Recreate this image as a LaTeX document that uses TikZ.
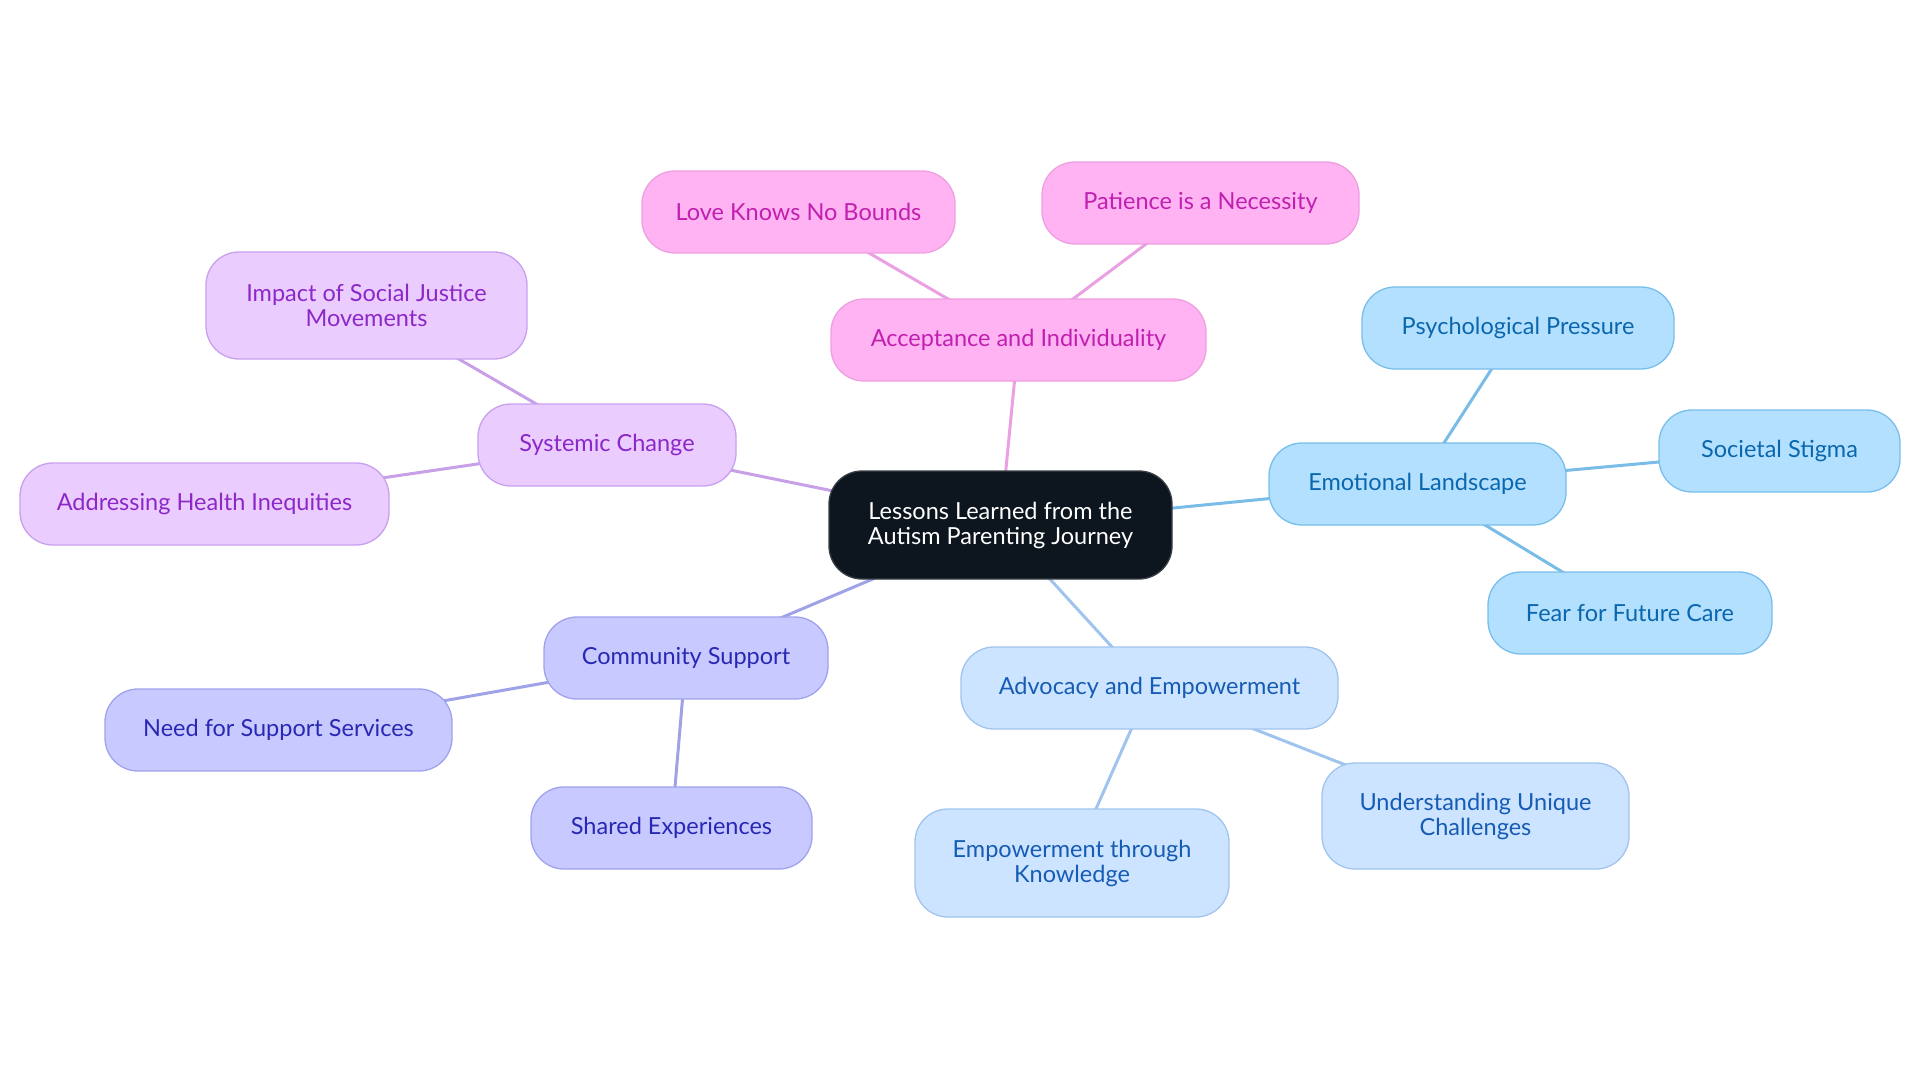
\documentclass[tikz,border=0pt]{standalone}
\usepackage{fontspec}
\setmainfont{Lato}
\usetikzlibrary{backgrounds}
\definecolor{ctrfill}{HTML}{0D151E}
\definecolor{ctrline}{HTML}{3A3F46}
\definecolor{pkfill}{HTML}{FFB3F2}
\definecolor{pkline}{HTML}{EE9FE0}
\definecolor{pktext}{HTML}{C01FB0}
\definecolor{pkedge}{HTML}{EAA0E2}
\definecolor{emfill}{HTML}{B3E0FF}
\definecolor{emline}{HTML}{78BEEB}
\definecolor{emtext}{HTML}{0B67AD}
\definecolor{emedge}{HTML}{7ABCE8}
\definecolor{adfill}{HTML}{CCE4FF}
\definecolor{adline}{HTML}{A0C4EE}
\definecolor{adtext}{HTML}{165CB4}
\definecolor{adedge}{HTML}{A0C4EE}
\definecolor{cofill}{HTML}{C8CAFF}
\definecolor{coline}{HTML}{A0A2EE}
\definecolor{cotext}{HTML}{2828B4}
\definecolor{coedge}{HTML}{A0A2E8}
\definecolor{syfill}{HTML}{EACCFF}
\definecolor{syline}{HTML}{C8A0EE}
\definecolor{sytext}{HTML}{8C28C8}
\definecolor{syedge}{HTML}{C8A0E8}
\tikzset{
  box/.style={rounded corners=33pt, line width=1.3pt, align=center,
    font=\fontsize{23.5}{25}\selectfont, minimum height=82pt, inner sep=0pt},
  ctr/.style={box, fill=ctrfill, draw=ctrline, text=white, minimum height=108pt},
  pk/.style={box, fill=pkfill, draw=pkline, text=pktext},
  em/.style={box, fill=emfill, draw=emline, text=emtext},
  ad/.style={box, fill=adfill, draw=adline, text=adtext},
  co/.style={box, fill=cofill, draw=coline, text=cotext},
  sy/.style={box, fill=syfill, draw=syline, text=sytext},
  link/.style={line width=3pt}
}
\begin{document}
\begin{tikzpicture}[x=1pt,y=-1pt]
\useasboundingbox (0,0) rectangle (1920,1083);
\node[ctr, minimum width=343pt] (c) at (1000.5,525) {Lessons Learned from the\\Autism Parenting Journey};
\node[pk, minimum width=375pt] (acc) at (1018.5,340) {Acceptance and Individuality};
\node[pk, minimum width=313pt] (love) at (798.5,212) {Love Knows No Bounds};
\node[pk, minimum width=317pt] (pat) at (1200.5,203) {Patience is a Necessity};
\node[em, minimum width=297pt] (emo) at (1417.5,484) {Emotional Landscape};
\node[em, minimum width=312pt] (psy) at (1518,328) {Psychological Pressure};
\node[em, minimum width=241pt] (soc) at (1779.5,451) {Societal Stigma};
\node[em, minimum width=284pt] (fear) at (1630,613) {Fear for Future Care};
\node[ad, minimum width=377pt] (adv) at (1149.5,688) {Advocacy and Empowerment};
\node[ad, minimum width=307pt, minimum height=106pt] (und) at (1475.5,816) {Understanding Unique\\Challenges};
\node[ad, minimum width=314pt, minimum height=108pt] (emp) at (1072,863) {Empowerment through\\Knowledge};
\node[co, minimum width=284pt] (com) at (686,658) {Community Support};
\node[co, minimum width=347pt] (need) at (278.5,730) {Need for Support Services};
\node[co, minimum width=281pt] (sha) at (671.5,828) {Shared Experiences};
\node[sy, minimum width=258pt] (sys) at (607,445) {Systemic Change};
\node[sy, minimum width=321pt, minimum height=107pt] (imp) at (366.5,305.5) {Impact of Social Justice\\Movements};
\node[sy, minimum width=369pt] (hea) at (204.5,504) {Addressing Health Inequities};
\begin{scope}[on background layer]
\draw[link, pkedge] (c.center) -- (acc.center);
\draw[link, pkedge] (acc.center) -- (love.center);
\draw[link, pkedge] (acc.center) -- (pat.center);
\draw[link, emedge] (c.center) -- (emo.center);
\draw[link, emedge] (emo.center) -- (psy.center);
\draw[link, emedge] (emo.center) -- (soc.center);
\draw[link, emedge] (emo.center) -- (fear.center);
\draw[link, adedge] (c.center) -- (adv.center);
\draw[link, adedge] (adv.center) -- (und.center);
\draw[link, adedge] (adv.center) -- (emp.center);
\draw[link, coedge] (c.center) -- (com.center);
\draw[link, coedge] (com.center) -- (need.center);
\draw[link, coedge] (com.center) -- (sha.center);
\draw[link, syedge] (c.center) -- (sys.center);
\draw[link, syedge] (sys.center) -- (imp.center);
\draw[link, syedge] (sys.center) -- (hea.center);
\end{scope}
\end{tikzpicture}
\end{document}
